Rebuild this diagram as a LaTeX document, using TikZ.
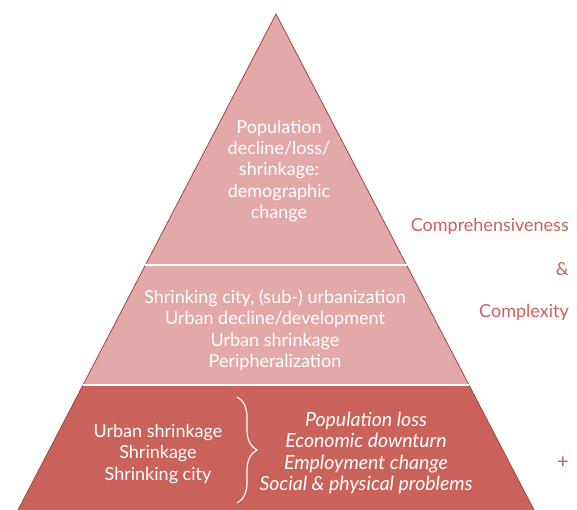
\documentclass[tikz,border=0pt]{standalone}
\usepackage{fontspec}
\setmainfont{Lato}
\usetikzlibrary{calc,decorations.pathreplacing}
\definecolor{pyrlight}{HTML}{E3A9A8}
\definecolor{pyrdark}{HTML}{C9625B}
\definecolor{pyredge}{HTML}{A4453F}
\begin{document}
\begin{tikzpicture}[
		x=1pt,y=-1pt,
		every node/.style={font=\fontsize{18}{21.3}\selectfont, inner sep=0pt},
		level/.style={align=center, text=white},
		side/.style={text=pyrdark, anchor=east},
		sep/.style={draw=white, line width=1.5pt}
		]
		\useasboundingbox (0,0) rectangle (577,510);
		\coordinate (apex) at (276,14);
		\coordinate (bl) at (18,510);
		\coordinate (br) at (534,510);
		% levels of the pyramid
		\coordinate (l1) at ($(apex)!0.5060!(bl)$);
		\coordinate (r1) at ($(apex)!0.5060!(br)$);
		\coordinate (l2) at ($(apex)!0.7480!(bl)$);
		\coordinate (r2) at ($(apex)!0.7480!(br)$);
		\fill[pyrlight] (apex) -- (l2) -- (r2) -- cycle;
		\fill[pyrdark] (l2) -- (bl) -- (br) -- (r2) -- cycle;
		\draw[pyredge, line width=0.8pt] (bl) -- (apex) -- (br);
		\draw[sep] (l1) -- (r1);
		\draw[sep] (l2) -- (r2);
		% texts
		\node[level] (top) at (279,171) {Population\\decline/loss/\\shrinkage:\\demographic\\change};
		\node[level] (mid) at (275,330) {Shrinking city, (sub-) urbanization\\Urban decline/development\\Urban shrinkage\\Peripheralization};
		\node[level] (terms) at (158,454) {Urban shrinkage\\Shrinkage\\Shrinking city};
		\node[level, font=\fontsize{19.5}{21.3}\selectfont\itshape] (causes) at (366,453) {Population loss\\Economic downturn\\Employment change\\Social \& physical problems};
		\draw[white, line width=1.2pt, decorate, decoration={brace, amplitude=20pt}]
			(237,397) -- (237,503);
		\node[side] (comp) at (569,226) {Comprehensiveness};
		\node[side] (amp) at (569,269) {\&};
		\node[side] (cplx) at (569,312) {Complexity};
		\node[text=pyrdark, font=\fontsize{20}{21}\selectfont] (plus) at (563,463) {+};
		\end{tikzpicture}
\end{document}
